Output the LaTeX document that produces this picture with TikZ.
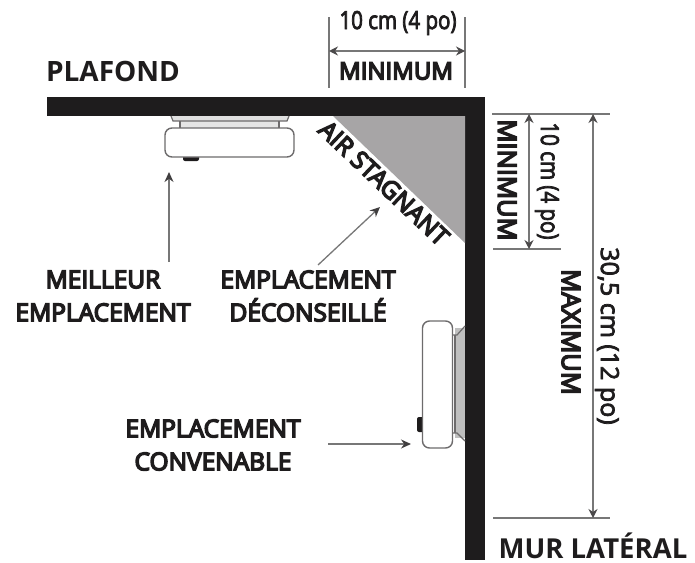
\documentclass[tikz,border=0pt]{standalone}
\usepackage{fontspec}
\setmainfont{Open Sans}
\newfontfamily\capsfont[FakeBold=6]{Open Sans}
\newfontfamily\dimfont[FakeBold=3,FakeStretch=0.82]{Open Sans}
\newfontfamily\longfont[FakeBold=3]{Open Sans}
\usetikzlibrary{arrows.meta}
\definecolor{ink}{HTML}{1E1C1D}
\definecolor{stagnant}{HTML}{A7A5A6}
\definecolor{dimline}{HTML}{777777}
\tikzset{
  x=1pt,y=-1pt,
  wallpart/.style={fill=ink,draw=none},
  label/.style={inner sep=0pt,align=center,text=ink,font=\fontsize{24.5}{33}\selectfont\capsfont},
  bigcap/.style={inner sep=0pt,text=ink,font=\fontsize{28}{30}\selectfont\bfseries},
  dimtext/.style={inner sep=0pt,text=ink,font=\fontsize{25}{27}\selectfont\dimfont},
  longtext/.style={inner sep=0pt,text=ink,font=\fontsize{25}{27}\selectfont\longfont},
  dimcap/.style={inner sep=0pt,text=ink,font=\fontsize{24}{26}\selectfont\capsfont},
  sidecap/.style={inner sep=0pt,text=ink,font=\fontsize{25.5}{27}\selectfont\capsfont},
  tick/.style={draw=dimline,line width=1.6pt},
  dimarrow/.style={draw=dimline,line width=1.3pt,{Stealth[length=9pt,width=9pt,color=ink!80]}-{Stealth[length=9pt,width=9pt,color=ink!80]}},
  pointer/.style={draw=dimline,line width=1.3pt,-{Stealth[length=10pt,width=9pt,color=ink!85]}},
  shell/.style={draw=ink!65,line width=1.4pt,fill=white,rounded corners=7pt},
  mount/.style={draw=ink!65,line width=1.2pt},
}
\begin{document}
\begin{tikzpicture}
\useasboundingbox (0,0) rectangle (695,562);
% structure
\fill[wallpart] (47,97) rectangle (485,116);
\fill[wallpart] (465,97) rectangle (485,560);
\fill[stagnant] (333,116) -- (465,116) -- (465,243) -- cycle;
% ceiling detector
\fill[black!10] (180,116) rectangle (280,128);
\draw[mount,fill=black!12] (171,116) -- (173,121) -- (287,121) -- (289,116);
\draw[mount] (180,121) -- (180,128) (279,121) -- (279,128);
\fill[ink,rounded corners=2pt] (183,154) rectangle (199,161);
\node[shell,minimum width=129pt,minimum height=29pt] (ceildet) at (229.5,142.5) {};
% wall detector
\fill[black!25] (455,328) rectangle (465,438);
\draw[mount] (451,335) -- (457,335) -- (465,326) (451,433) -- (457,433) -- (465,441);
\draw[mount] (455,335) -- (455,433);
\fill[ink,rounded corners=2pt] (417,417) rectangle (425,432);
\node[shell,minimum width=30pt,minimum height=127pt] (walldet) at (437.5,384.5) {};
% dimension ticks
\coordinate (tl1) at (329,17); \coordinate (tl2) at (329,88);
\coordinate (tr1) at (465,17); \coordinate (tr2) at (465,88);
\draw[tick] (tl1) -- (tl2);
\draw[tick] (tr1) -- (tr2);
\coordinate (rt1) at (492,114); \coordinate (rt2) at (610,114);
\coordinate (rm1) at (493,249); \coordinate (rm2) at (561,249);
\coordinate (rb1) at (493,518); \coordinate (rb2) at (610,518);
\draw[tick] (rt1) -- (rt2);
\draw[tick] (rm1) -- (rm2);
\draw[tick] (rb1) -- (rb2);
% dimension arrows
\coordinate (ha) at (329,51); \coordinate (hb) at (465,51);
\draw[dimarrow] (ha) -- (hb);
\coordinate (va) at (529,114); \coordinate (vb) at (529,249);
\draw[dimarrow] (va) -- (vb);
\coordinate (wa) at (593,114); \coordinate (wb) at (593,518);
\draw[dimarrow] (wa) -- (wb);
% texts
\node[bigcap] (plafond) at (113,71) {PLAFOND};
\node[bigcap,font=\fontsize{27.5}{30}\selectfont\bfseries] (mur) at (593,546) {MUR LATÉRAL};
\node[dimtext] (h10) at (398,23) {10 cm (4 po)};
\node[dimcap] (hmin) at (396,71) {MINIMUM};
\node[sidecap,rotate=-90] (vmin) at (507,180) {MINIMUM};
\node[dimtext,rotate=-90] (v10) at (547,181) {10 cm (4 po)};
\node[longtext,rotate=-90] (v30) at (607,336) {30,5 cm (12 po)};
\node[sidecap,rotate=-90] (vmax) at (571,332) {MAXIMUM};
\node[label] (best) at (103,296) {MEILLEUR\\EMPLACEMENT};
\node[label] (bad) at (308,296) {EMPLACEMENT\\DÉCONSEILLÉ};
\node[label] (ok) at (213,445) {EMPLACEMENT\\CONVENABLE};
\node[label,rotate=-43.5] (air) at (384,183) {AIR STAGNANT};
% pointers
\coordinate (p1) at (169,262); \coordinate (p1e) at (169,172);
\draw[pointer] (p1) -- (p1e);
\coordinate (p2) at (318,265); \coordinate (p2e) at (380,207);
\draw[pointer] (p2) -- (p2e);
\coordinate (p3) at (328,444); \coordinate (p3e) at (411,444);
\draw[pointer] (p3) -- (p3e);
\end{tikzpicture}
\end{document}
